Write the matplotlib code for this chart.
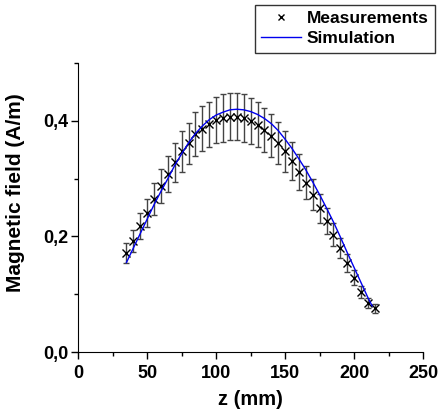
import matplotlib.pyplot as plt
from matplotlib.ticker import MultipleLocator, FuncFormatter

plt.rcParams['font.family'] = ['Liberation Sans', 'DejaVu Sans']
plt.rcParams['font.weight'] = 'bold'

# Measured field along z (mm) with error bars
z_meas = [35, 40, 45, 50, 55, 60, 65, 70, 75, 80, 85, 90, 95, 100, 105, 110, 115, 120, 125,
          130, 135, 140, 145, 150, 155, 160, 165, 170, 175, 180, 185, 190, 195, 200, 205, 210, 215]
b_meas = [0.171, 0.193, 0.218, 0.241, 0.265, 0.287, 0.308, 0.328, 0.347, 0.361, 0.377, 0.386,
          0.394, 0.402, 0.405, 0.407, 0.407, 0.405, 0.400, 0.393, 0.384, 0.374, 0.362, 0.347,
          0.331, 0.312, 0.293, 0.272, 0.249, 0.227, 0.203, 0.180, 0.154, 0.129, 0.104, 0.085, 0.076]
b_err = [0.017, 0.019, 0.022, 0.024, 0.027, 0.029, 0.031, 0.033, 0.035, 0.036, 0.038, 0.039,
         0.039, 0.040, 0.041, 0.041, 0.041, 0.041, 0.040, 0.039, 0.038, 0.037, 0.036, 0.035,
         0.033, 0.031, 0.029, 0.027, 0.025, 0.023, 0.020, 0.018, 0.015, 0.013, 0.010, 0.008, 0.008]

# Simulated field
z_sim = [35, 40, 45, 50, 55, 60, 65, 70, 75, 80, 85, 90, 95, 100, 105, 110, 115, 120, 125,
         130, 135, 140, 145, 150, 155, 160, 165, 170, 175, 180, 185, 190, 195, 200, 205, 210, 213]
b_sim = [0.155, 0.180, 0.205, 0.230, 0.255, 0.278, 0.300, 0.323, 0.343, 0.362, 0.378, 0.391,
         0.402, 0.410, 0.415, 0.419, 0.420, 0.419, 0.416, 0.411, 0.404, 0.395, 0.383, 0.368,
         0.352, 0.334, 0.315, 0.294, 0.272, 0.249, 0.225, 0.199, 0.172, 0.146, 0.120, 0.094, 0.080]

fig = plt.figure(figsize=(4.39, 4.09), dpi=100)
ax = fig.add_axes([0.178, 0.139, 0.786, 0.707])

ax.errorbar(z_meas, b_meas, yerr=b_err, fmt='none', ecolor='#444444', elinewidth=1,
            capsize=2, capthick=1, zorder=2)
ax.plot(z_meas, b_meas, 'x', color='black', markersize=6, markeredgewidth=1,
        label='Measurements', zorder=3)
ax.plot(z_sim, b_sim, '-', color='#0000ee', linewidth=1, label='Simulation', zorder=4)

ax.set_xlim(0, 250)
ax.set_ylim(0, 0.5)
ax.xaxis.set_major_locator(MultipleLocator(50))
ax.xaxis.set_minor_locator(MultipleLocator(25))
ax.yaxis.set_major_locator(MultipleLocator(0.2))
ax.yaxis.set_minor_locator(MultipleLocator(0.1))
ax.yaxis.set_major_formatter(FuncFormatter(lambda v, p: f'{v:.1f}'.replace('.', ',')))

for side in ['top', 'right']:
    ax.spines[side].set_visible(False)
ax.tick_params(which='major', direction='out', length=5, width=1, labelsize=13, pad=2)
ax.tick_params(axis='x', which='major', pad=4)
ax.tick_params(which='minor', direction='out', length=3, width=1)
for lab in ax.get_xticklabels() + ax.get_yticklabels():
    lab.set_fontweight('bold')

ax.set_xlabel('z (mm)', fontsize=14.5, fontweight='bold')
ax.set_ylabel('Magnetic field (A/m)', fontsize=15, fontweight='bold')
ax.xaxis.set_label_coords(0.5, -0.13)
ax.yaxis.set_label_coords(-0.155, 0.55)

leg = fig.legend(loc='upper right', bbox_to_anchor=(0.99, 0.988), fontsize=12.5,
                 frameon=True, fancybox=False, edgecolor='black', handlelength=2.3,
                 borderpad=0.35, labelspacing=0.3, handletextpad=0.35, borderaxespad=0,
                 markerscale=0.8)
leg.get_frame().set_linewidth(1)
for t in leg.get_texts():
    t.set_fontweight('bold')

fig.savefig('out.png', dpi=100)
